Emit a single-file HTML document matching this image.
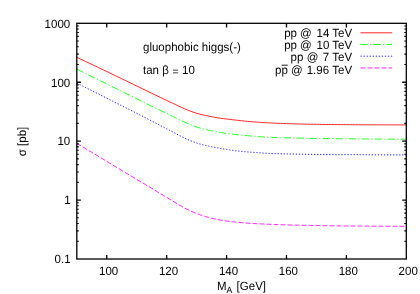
<!DOCTYPE html>
<html><head><meta charset="utf-8"><title>plot</title>
<style>html,body{margin:0;padding:0;background:#fff;}svg{display:block;}text{font-family:"Liberation Sans",sans-serif;font-size:11.5px;fill:#000;text-rendering:geometricPrecision;}</style></head>
<body>
<svg width="420" height="294" viewBox="0 0 420 294">
<defs><filter id="soft" x="0" y="0" width="420" height="294" filterUnits="userSpaceOnUse"><feGaussianBlur stdDeviation="0.3"/></filter></defs>
<rect width="420" height="294" fill="#fff"/>
<g filter="url(#soft)">
<path d="M76.8,57.30 L79.8,58.71 L82.8,60.13 L85.8,61.55 L88.8,62.96 L91.8,64.39 L94.8,65.81 L97.8,67.24 L100.8,68.66 L103.8,70.10 L106.8,71.53 L109.8,72.96 L112.7,74.40 L115.7,75.84 L118.7,77.28 L121.7,78.73 L124.7,80.17 L127.7,81.61 L130.7,83.06 L133.7,84.51 L136.7,85.97 L139.7,87.42 L142.7,88.87 L145.7,90.32 L148.7,91.77 L151.7,93.21 L154.7,94.66 L157.7,96.11 L160.7,97.55 L163.7,98.99 L166.7,100.42 L169.7,101.84 L172.7,103.25 L175.7,104.64 L178.6,106.01 L181.6,107.38 L184.6,108.76 L187.6,110.06 L190.6,111.21 L193.6,112.27 L196.6,113.23 L199.6,114.07 L202.6,114.81 L205.6,115.47 L208.6,116.10 L211.6,116.71 L214.6,117.29 L217.6,117.80 L220.6,118.25 L223.6,118.65 L226.6,119.03 L229.6,119.40 L232.6,119.74 L235.6,120.07 L238.6,120.41 L241.6,120.75 L244.5,121.08 L247.5,121.38 L250.5,121.64 L253.5,121.88 L256.5,122.10 L259.5,122.30 L262.5,122.49 L265.5,122.66 L268.5,122.82 L271.5,122.97 L274.5,123.12 L277.5,123.26 L280.5,123.39 L283.5,123.51 L286.5,123.63 L289.5,123.73 L292.5,123.83 L295.5,123.91 L298.5,123.99 L301.5,124.06 L304.5,124.12 L307.4,124.18 L310.4,124.23 L313.4,124.28 L316.4,124.32 L319.4,124.37 L322.4,124.41 L325.4,124.45 L328.4,124.49 L331.4,124.53 L334.4,124.56 L337.4,124.60 L340.4,124.63 L343.4,124.65 L346.4,124.68 L349.4,124.70 L352.4,124.71 L355.4,124.73 L358.4,124.75 L361.4,124.76 L364.4,124.78 L367.4,124.79 L370.4,124.81 L373.4,124.82 L376.3,124.83 L379.3,124.84 L382.3,124.86 L385.3,124.87 L388.3,124.87 L391.3,124.88 L394.3,124.89 L397.3,124.89 L400.3,124.90 L403.3,124.90 L406.3,124.90" fill="none" stroke="#ff0000" stroke-width="0.85"/>
<path d="M76.8,69.20 L79.8,70.67 L82.8,72.14 L85.8,73.61 L88.8,75.09 L91.8,76.56 L94.8,78.03 L97.8,79.50 L100.8,80.98 L103.8,82.45 L106.8,83.92 L109.8,85.39 L112.7,86.86 L115.7,88.33 L118.7,89.80 L121.7,91.28 L124.7,92.76 L127.7,94.26 L130.7,95.76 L133.7,97.26 L136.7,98.77 L139.7,100.28 L142.7,101.78 L145.7,103.28 L148.7,104.76 L151.7,106.22 L154.7,107.67 L157.7,109.10 L160.7,110.52 L163.7,111.95 L166.7,113.38 L169.7,114.83 L172.7,116.32 L175.7,117.82 L178.6,119.29 L181.6,120.71 L184.6,122.10 L187.6,123.43 L190.6,124.66 L193.6,125.85 L196.6,126.95 L199.6,127.91 L202.6,128.75 L205.6,129.51 L208.6,130.21 L211.6,130.86 L214.6,131.45 L217.6,132.00 L220.6,132.51 L223.6,132.99 L226.6,133.43 L229.6,133.81 L232.6,134.16 L235.6,134.48 L238.6,134.80 L241.6,135.11 L244.5,135.41 L247.5,135.69 L250.5,135.94 L253.5,136.19 L256.5,136.44 L259.5,136.67 L262.5,136.88 L265.5,137.07 L268.5,137.23 L271.5,137.36 L274.5,137.47 L277.5,137.56 L280.5,137.65 L283.5,137.73 L286.5,137.80 L289.5,137.87 L292.5,137.94 L295.5,138.01 L298.5,138.08 L301.5,138.15 L304.5,138.21 L307.4,138.27 L310.4,138.33 L313.4,138.38 L316.4,138.42 L319.4,138.46 L322.4,138.50 L325.4,138.54 L328.4,138.58 L331.4,138.61 L334.4,138.64 L337.4,138.67 L340.4,138.70 L343.4,138.73 L346.4,138.76 L349.4,138.79 L352.4,138.82 L355.4,138.85 L358.4,138.88 L361.4,138.91 L364.4,138.94 L367.4,138.97 L370.4,139.00 L373.4,139.03 L376.3,139.05 L379.3,139.08 L382.3,139.11 L385.3,139.13 L388.3,139.16 L391.3,139.18 L394.3,139.21 L397.3,139.23 L400.3,139.26 L403.3,139.28 L406.3,139.30" fill="none" stroke="#00ff00" stroke-dasharray="7.3 2.2 1.3 2.2" stroke-width="0.85"/>
<path d="M76.8,83.10 L79.8,84.61 L82.8,86.12 L85.8,87.63 L88.8,89.14 L91.8,90.65 L94.8,92.16 L97.8,93.67 L100.8,95.18 L103.8,96.69 L106.8,98.20 L109.8,99.71 L112.7,101.22 L115.7,102.73 L118.7,104.24 L121.7,105.75 L124.7,107.26 L127.7,108.78 L130.7,110.29 L133.7,111.80 L136.7,113.32 L139.7,114.83 L142.7,116.36 L145.7,117.89 L148.7,119.42 L151.7,120.97 L154.7,122.54 L157.7,124.12 L160.7,125.70 L163.7,127.28 L166.7,128.86 L169.7,130.42 L172.7,131.98 L175.7,133.54 L178.6,135.07 L181.6,136.58 L184.6,138.09 L187.6,139.51 L190.6,140.77 L193.6,141.93 L196.6,142.98 L199.6,143.90 L202.6,144.70 L205.6,145.43 L208.6,146.11 L211.6,146.75 L214.6,147.34 L217.6,147.90 L220.6,148.43 L223.6,148.94 L226.6,149.42 L229.6,149.89 L232.6,150.35 L235.6,150.76 L238.6,151.10 L241.6,151.40 L244.5,151.66 L247.5,151.91 L250.5,152.14 L253.5,152.37 L256.5,152.59 L259.5,152.81 L262.5,153.01 L265.5,153.19 L268.5,153.34 L271.5,153.46 L274.5,153.57 L277.5,153.67 L280.5,153.76 L283.5,153.84 L286.5,153.92 L289.5,153.99 L292.5,154.05 L295.5,154.11 L298.5,154.16 L301.5,154.22 L304.5,154.26 L307.4,154.31 L310.4,154.35 L313.4,154.38 L316.4,154.42 L319.4,154.45 L322.4,154.48 L325.4,154.51 L328.4,154.54 L331.4,154.57 L334.4,154.59 L337.4,154.62 L340.4,154.64 L343.4,154.66 L346.4,154.68 L349.4,154.70 L352.4,154.71 L355.4,154.73 L358.4,154.74 L361.4,154.76 L364.4,154.77 L367.4,154.79 L370.4,154.80 L373.4,154.81 L376.3,154.83 L379.3,154.84 L382.3,154.85 L385.3,154.86 L388.3,154.87 L391.3,154.88 L394.3,154.88 L397.3,154.89 L400.3,154.89 L403.3,154.90 L406.3,154.90" fill="none" stroke="#0000ff" stroke-dasharray="1.3 1.74" stroke-width="0.85"/>
<path d="M76.8,143.30 L79.8,145.11 L82.8,146.91 L85.8,148.72 L88.8,150.53 L91.8,152.34 L94.8,154.14 L97.8,155.95 L100.8,157.76 L103.8,159.57 L106.8,161.38 L109.8,163.20 L112.7,165.01 L115.7,166.82 L118.7,168.63 L121.7,170.44 L124.7,172.24 L127.7,174.03 L130.7,175.82 L133.7,177.60 L136.7,179.38 L139.7,181.16 L142.7,182.94 L145.7,184.72 L148.7,186.51 L151.7,188.31 L154.7,190.12 L157.7,191.94 L160.7,193.75 L163.7,195.57 L166.7,197.39 L169.7,199.19 L172.7,201.01 L175.7,202.83 L178.6,204.61 L181.6,206.33 L184.6,208.04 L187.6,209.64 L190.6,211.04 L193.6,212.33 L196.6,213.52 L199.6,214.62 L202.6,215.65 L205.6,216.59 L208.6,217.43 L211.6,218.19 L214.6,218.88 L217.6,219.50 L220.6,220.06 L223.6,220.57 L226.6,221.03 L229.6,221.42 L232.6,221.77 L235.6,222.09 L238.6,222.38 L241.6,222.65 L244.5,222.90 L247.5,223.13 L250.5,223.33 L253.5,223.51 L256.5,223.68 L259.5,223.83 L262.5,223.98 L265.5,224.11 L268.5,224.24 L271.5,224.36 L274.5,224.48 L277.5,224.60 L280.5,224.71 L283.5,224.81 L286.5,224.91 L289.5,224.99 L292.5,225.06 L295.5,225.13 L298.5,225.20 L301.5,225.26 L304.5,225.32 L307.4,225.39 L310.4,225.45 L313.4,225.50 L316.4,225.56 L319.4,225.61 L322.4,225.66 L325.4,225.71 L328.4,225.75 L331.4,225.80 L334.4,225.84 L337.4,225.87 L340.4,225.91 L343.4,225.94 L346.4,225.97 L349.4,226.00 L352.4,226.02 L355.4,226.04 L358.4,226.07 L361.4,226.09 L364.4,226.11 L367.4,226.13 L370.4,226.16 L373.4,226.18 L376.3,226.20 L379.3,226.21 L382.3,226.23 L385.3,226.25 L388.3,226.26 L391.3,226.27 L394.3,226.28 L397.3,226.29 L400.3,226.30 L403.3,226.30 L406.3,226.30" fill="none" stroke="#ff00ff" stroke-dasharray="5 2" stroke-width="0.85"/>
<path d="M76.8,200.07h4.1 M406.3,200.07h-4.1 M76.8,141.15h4.1 M406.3,141.15h-4.1 M76.8,82.23h4.1 M406.3,82.23h-4.1 M106.75,259.0v-4.1 M106.75,23.3v4.1 M166.66,259.0v-4.1 M166.66,23.3v4.1 M226.57,259.0v-4.1 M226.57,23.3v4.1 M286.48,259.0v-4.1 M286.48,23.3v4.1 M346.39,259.0v-4.1 M346.39,23.3v4.1" fill="none" stroke="#000" stroke-width="1.3"/>
<path d="M76.8,241.26h2.0 M406.3,241.26h-2.0 M76.8,230.89h2.0 M406.3,230.89h-2.0 M76.8,223.52h2.0 M406.3,223.52h-2.0 M76.8,217.81h2.0 M406.3,217.81h-2.0 M76.8,213.15h2.0 M406.3,213.15h-2.0 M76.8,209.20h2.0 M406.3,209.20h-2.0 M76.8,205.79h2.0 M406.3,205.79h-2.0 M76.8,202.77h2.0 M406.3,202.77h-2.0 M76.8,182.34h2.0 M406.3,182.34h-2.0 M76.8,171.96h2.0 M406.3,171.96h-2.0 M76.8,164.60h2.0 M406.3,164.60h-2.0 M76.8,158.89h2.0 M406.3,158.89h-2.0 M76.8,154.22h2.0 M406.3,154.22h-2.0 M76.8,150.28h2.0 M406.3,150.28h-2.0 M76.8,146.86h2.0 M406.3,146.86h-2.0 M76.8,143.85h2.0 M406.3,143.85h-2.0 M76.8,123.41h2.0 M406.3,123.41h-2.0 M76.8,113.04h2.0 M406.3,113.04h-2.0 M76.8,105.67h2.0 M406.3,105.67h-2.0 M76.8,99.96h2.0 M406.3,99.96h-2.0 M76.8,95.30h2.0 M406.3,95.30h-2.0 M76.8,91.35h2.0 M406.3,91.35h-2.0 M76.8,87.94h2.0 M406.3,87.94h-2.0 M76.8,84.92h2.0 M406.3,84.92h-2.0 M76.8,64.49h2.0 M406.3,64.49h-2.0 M76.8,54.11h2.0 M406.3,54.11h-2.0 M76.8,46.75h2.0 M406.3,46.75h-2.0 M76.8,41.04h2.0 M406.3,41.04h-2.0 M76.8,36.37h2.0 M406.3,36.37h-2.0 M76.8,32.43h2.0 M406.3,32.43h-2.0 M76.8,29.01h2.0 M406.3,29.01h-2.0 M76.8,26.00h2.0 M406.3,26.00h-2.0" fill="none" stroke="#000" stroke-width="1.1"/>
<rect x="76.8" y="23.3" width="329.5" height="235.7" fill="none" stroke="#000" stroke-width="1.3"/>
<path d="M360.5,32.8H392.2" fill="none" stroke="#ff0000" stroke-width="0.85"/>
<path d="M360.5,44.5H392.2" fill="none" stroke="#00ff00" stroke-dasharray="7.3 2.2 1.3 2.2" stroke-width="0.85"/>
<path d="M360.5,56.2H392.2" fill="none" stroke="#0000ff" stroke-dasharray="1.3 1.74" stroke-width="0.85"/>
<path d="M360.5,67.95H392.2" fill="none" stroke="#ff00ff" stroke-dasharray="5 2" stroke-width="0.85"/>
<text y="35.77" transform="scale(1,1.04)" font-size="12px"><tspan x="284.2">pp</tspan><tspan x="300.1">@</tspan><tspan x="316.6">14</tspan><tspan x="332.3">TeV</tspan></text>
<text y="47.02" transform="scale(1,1.04)" font-size="12px"><tspan x="284.2">pp</tspan><tspan x="300.1">@</tspan><tspan x="316.6">10</tspan><tspan x="332.3">TeV</tspan></text>
<text y="58.27" transform="scale(1,1.04)" font-size="12px"><tspan x="290.6">pp</tspan><tspan x="306.8">@</tspan><tspan x="322.8">7</tspan><tspan x="332.3">TeV</tspan></text>
<text y="70.87" transform="scale(1,1.04)" font-size="12px"><tspan x="275.1">pp</tspan><tspan x="291.0">@</tspan><tspan x="306.7">1.96</tspan><tspan x="332.3">TeV</tspan></text>
<path d="M281.6,65.2H287.8" stroke="#000" stroke-width="0.9" fill="none"/>
<text x="70.6" y="252.60" transform="scale(1,1.04)" text-anchor="end">0.1</text>
<text x="70.6" y="196.03" transform="scale(1,1.04)" text-anchor="end">1</text>
<text x="70.2" y="139.38" transform="scale(1,1.04)" text-anchor="end">10</text>
<text x="70.2" y="83.44" transform="scale(1,1.04)" text-anchor="end">100</text>
<text x="70.2" y="26.78" transform="scale(1,1.04)" text-anchor="end">1000</text>
<text x="108.65" y="264.13" transform="scale(1,1.04)" text-anchor="middle">100</text>
<text x="168.56" y="264.13" transform="scale(1,1.04)" text-anchor="middle">120</text>
<text x="228.47" y="264.13" transform="scale(1,1.04)" text-anchor="middle">140</text>
<text x="288.38" y="264.13" transform="scale(1,1.04)" text-anchor="middle">160</text>
<text x="348.29" y="264.13" transform="scale(1,1.04)" text-anchor="middle">180</text>
<text x="408.2" y="264.13" transform="scale(1,1.04)" text-anchor="middle">200</text>
<text x="143" y="48.75" transform="scale(1,1.04)">gluophobic higgs(-)</text>
<text x="143" y="70.77" transform="scale(1,1.04)">tan β <tspan dx="0.4" dy="1.4" font-size="10.5px">=</tspan><tspan dx="0.3" dy="-1.4"> 10</tspan></text>
<text x="217" y="279.13" transform="scale(1,1.04)">M<tspan x="226.4" font-size="8.7px" dy="2.7">A</tspan><tspan x="236.6" dy="-2.7">[GeV]</tspan></text>
<text transform="translate(26.0,141.5) rotate(-90) scale(1,1.04)" text-anchor="middle">σ [pb]</text>
</g>
</svg></body></html>
